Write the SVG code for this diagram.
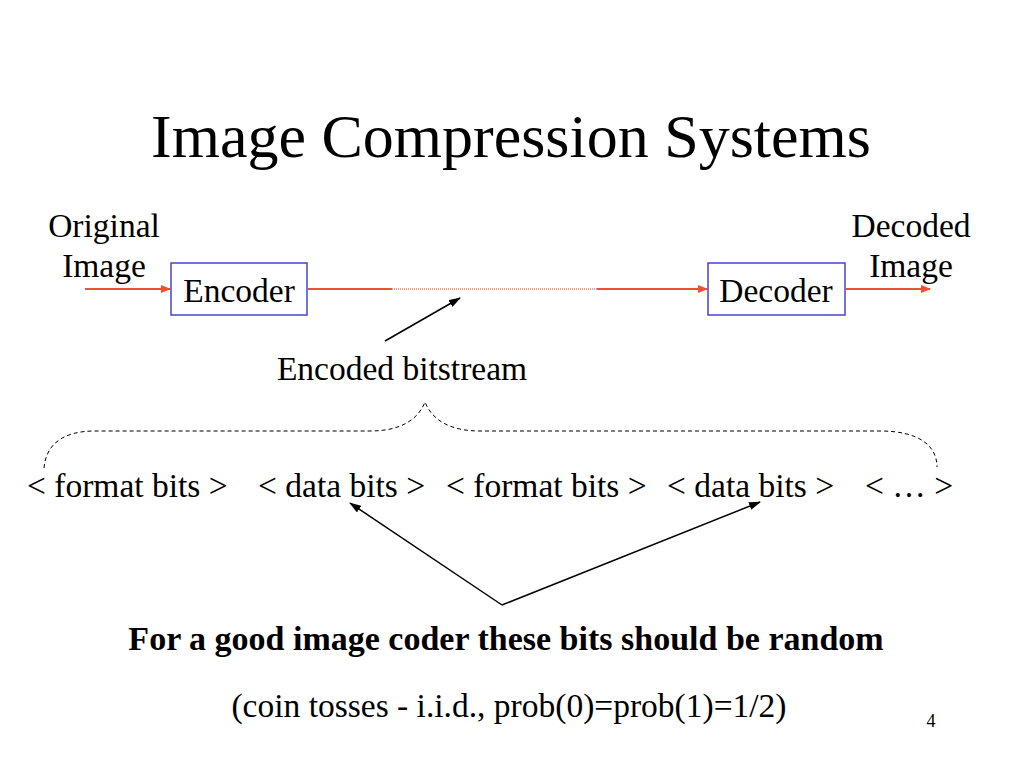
<svg xmlns="http://www.w3.org/2000/svg" width="1024" height="768" viewBox="0 0 1024 768">
<style>
text{font-family:"Liberation Serif","Times New Roman",serif;fill:#000}
.t{font-size:33.5px}
.box{fill:#fff;stroke:#4444cc;stroke-width:1.5}
.red{stroke:#f0502a;stroke-width:2;fill:none}
.blk{stroke:#000;stroke-width:1.5;fill:none}
.dash{stroke:#000;stroke-width:1;fill:none;stroke-dasharray:4,3}
</style>
<defs>
<marker id="ar" markerWidth="10" markerHeight="8" refX="9" refY="4" orient="auto" markerUnits="userSpaceOnUse"><path d="M0,0 L10,4 L0,8 z" fill="#f0502a"/></marker>
<marker id="ab" markerWidth="12" markerHeight="8" refX="11" refY="4" orient="auto" markerUnits="userSpaceOnUse"><path d="M0,0 L12,4 L0,8 z" fill="#000"/></marker>
</defs>
<rect width="1024" height="768" fill="#fff"/>
<text x="511" y="157" font-size="62" text-anchor="middle">Image Compression Systems</text>
<g id="connectors">
<line class="red" x1="85" y1="289" x2="170" y2="289" marker-end="url(#ar)"/>
<line class="red" x1="308" y1="289" x2="392" y2="289"/>
<line x1="392" y1="289" x2="597" y2="289" stroke="#f2a08a" stroke-width="2" stroke-dasharray="1,1"/>
<line class="red" x1="597" y1="289" x2="707" y2="289" marker-end="url(#ar)"/>
<line class="red" x1="846" y1="289" x2="930" y2="289" marker-end="url(#ar)"/>
<line class="blk" x1="385" y1="341" x2="460" y2="298" marker-end="url(#ab)"/>
<path class="dash" d="M44,468 C46,445 62,431 95,431 L370,431 C400,431 418,420 425,402 C432,420 450,431 480,431 L880,431 C918,431 937,445 937,467"/>
<line class="blk" x1="502" y1="605" x2="350" y2="503" marker-end="url(#ab)"/>
<line class="blk" x1="502" y1="605" x2="760" y2="502" marker-end="url(#ab)"/>
</g>
<g id="original">
<text class="t" x="104" y="237" text-anchor="middle">Original</text>
<text class="t" x="104" y="277" text-anchor="middle">Image</text>
</g>
<g id="encoder">
<rect class="box" x="171" y="263" width="136" height="52"/>
<text class="t" x="239" y="302" text-anchor="middle">Encoder</text>
</g>
<g id="decoder">
<rect class="box" x="708" y="263" width="137" height="52"/>
<text class="t" x="776" y="302" text-anchor="middle">Decoder</text>
</g>
<g id="decoded">
<text class="t" x="911" y="237" text-anchor="middle">Decoded</text>
<text class="t" x="911" y="277" text-anchor="middle">Image</text>
</g>
<g id="bitstream">
<text class="t" x="402" y="380" text-anchor="middle">Encoded bitstream</text>
</g>
<g id="bits">
<text class="t" x="27" y="497">&lt; format bits &gt;</text>
<text class="t" x="258" y="497">&lt; data bits &gt;</text>
<text class="t" x="446" y="497">&lt; format bits &gt;</text>
<text class="t" x="667" y="497">&lt; data bits &gt;</text>
<text class="t" x="865" y="497">&lt; … &gt;</text>
</g>
<g id="note">
<text x="506" y="650" font-size="34" font-weight="bold" text-anchor="middle">For a good image coder these bits should be random</text>
<text class="t" x="509" y="717" text-anchor="middle">(coin tosses - i.i.d., prob(0)=prob(1)=1/2)</text>
</g>
<text x="931" y="727" font-size="18" text-anchor="middle">4</text>
</svg>
